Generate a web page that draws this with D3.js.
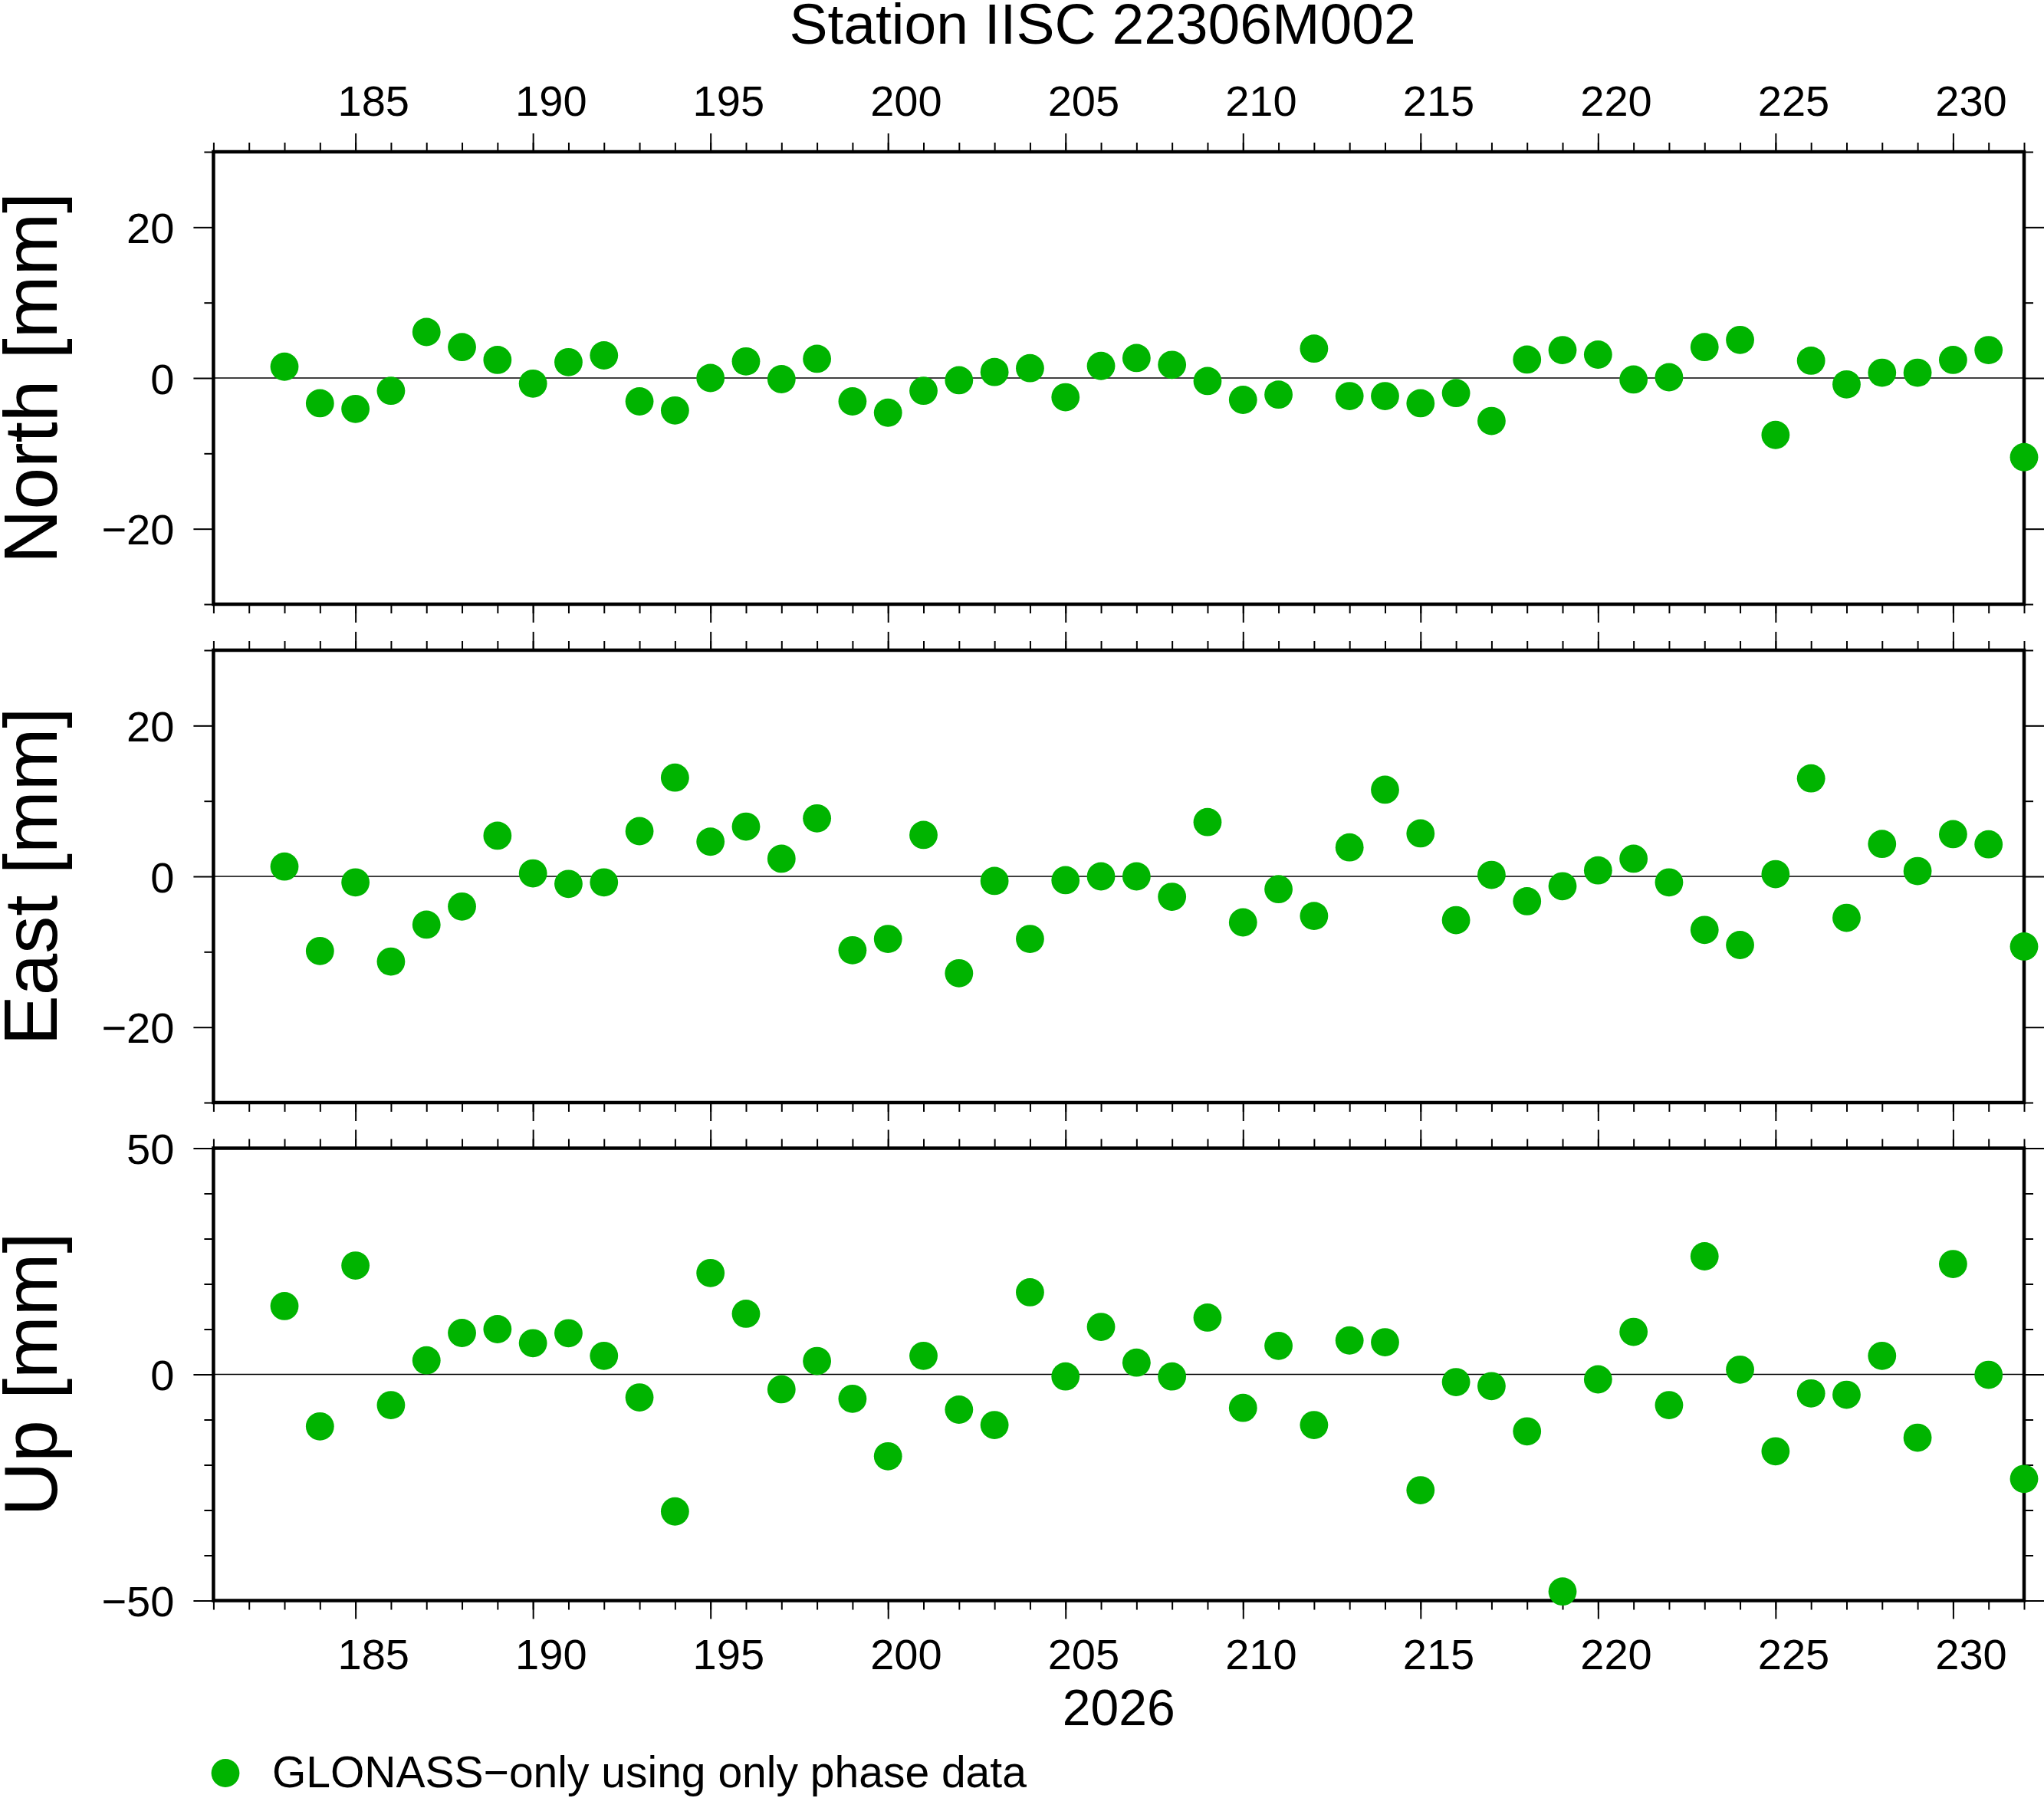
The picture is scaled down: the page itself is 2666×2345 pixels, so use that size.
<!DOCTYPE html>
<html>
<head>
<meta charset="utf-8">
<script src="https://cdn.jsdelivr.net/npm/d3@7"></script>
<style>
  html, body { margin: 0; padding: 0; background: #fff; }
  svg text { font-family: "Liberation Sans", Arial, Helvetica, sans-serif; fill: #000; }
  .tick line { stroke: #000; stroke-width: 2; }
  .domain { display: none; }
</style>
</head>
<body>
<svg id="chart"></svg>
<script>
// day of year 2026
const days = [183, 184, 185, 186, 187, 188, 189, 190, 191, 192, 193, 194,
  195, 196, 197, 198, 199, 200, 201, 202, 203, 204, 205, 206, 207, 208, 209,
  210, 211, 212, 213, 214, 215, 216, 217, 218, 219, 220, 221, 222, 223, 224,
  225, 226, 227, 228, 229, 230, 231, 232];

const north = [1.5, -3.35, -4.1, -1.7, 6.1, 4.1, 2.4, -0.74, 2.1, 3.0, -3.1, -4.3,
  0.0, 2.2, -0.15, 2.55, -3.1, -4.6, -1.7, -0.3, 0.8, 1.3, -2.55, 1.6, 2.65, 1.75,
  -0.4, -2.9, -2.2, 3.9, -2.4, -2.4, -3.35, -2.0, -5.7, 2.45, 3.7, 3.1, -0.2, 0.1,
  4.1, 5.05, -7.55, 2.3, -0.85, 0.7, 0.7, 2.4, 3.7, -10.5];

const east = [1.3, -9.9, -0.8, -11.3, -6.4, -4.0, 5.4, 0.4, -1.0, -0.8, 6.0, 13.1,
  4.6, 6.6, 2.35, 7.7, -9.8, -8.3, 5.5, -12.85, -0.6, -8.3, -0.5, 0.0, 0.0, -2.7,
  7.2, -6.1, -1.7, -5.25, 3.85, 11.5, 5.7, -5.8, 0.2, -3.3, -1.3, 0.8, 2.35, -0.8,
  -7.1, -9.1, 0.3, 13.0, -5.5, 4.3, 0.7, 5.6, 4.25, -9.3];

const up = [15.1, -11.5, 24.05, -6.8, 3.1, 9.15, 10.0, 6.9, 9.1, 4.1, -5.1, -30.3,
  22.4, 13.4, -3.3, 2.95, -5.4, -18.1, 4.1, -7.8, -11.2, 18.15, -0.45, 10.5, 2.6,
  -0.45, 12.55, -7.4, 6.3, -11.2, 7.5, 7.1, -25.6, -1.7, -2.6, -12.6, -48.0, -1.1,
  9.4, -6.8, 26.1, 1.05, -17.0, -4.2, -4.5, 4.1, -14.0, 24.4, -0.1, -23.1];

const xMajorTicks = [185, 190, 195, 200, 205, 210, 215, 220, 225, 230];
const xDomain = [181, 232];

const panels = [
  { label: 'North [mm]', values: north, domain: [-30, 30], major: [-20, 0, 20], minor: [-30, -10, 10, 30] },
  { label: 'East [mm]',  values: east,  domain: [-30, 30], major: [-20, 0, 20], minor: [-30, -10, 10, 30] },
  { label: 'Up [mm]',    values: up,    domain: [-50, 50], major: [-50, 0, 50], minor: [-40, -30, -20, -10, 10, 20, 30, 40] }
];

const title = 'Station IISC 22306M002';
const yearLabel = '2026';
const legendText = 'GLONASS\u2212only using only phase data';

const W = 2666, H = 2345;
const left = 278.4, right = 2640;
const panelTops = [198, 848, 1497.5];
const panelH = 590;
const green = '#00b400';
const dotR = 18.4;

const svg = d3.select('#chart').attr('width', W).attr('height', H);
svg.append('rect').attr('width', W).attr('height', H).attr('fill', '#fff');

const x = d3.scaleLinear().domain(xDomain).range([left, right]);
const minorDays = d3.range(xDomain[0], xDomain[1] + 1);
const fmt = d => (d < 0 ? '\u2212' + Math.abs(d) : String(d));
// day annotations sit in the middle of their day
const halfDay = x(xDomain[0] + 0.5) - x(xDomain[0]);

svg.append('text')
  .attr('x', 1438).attr('y', 57)
  .attr('text-anchor', 'middle')
  .attr('font-size', 75)
  .text(title);

panels.forEach((p, i) => {
  const top = panelTops[i], bottom = top + panelH;
  const y = d3.scaleLinear().domain(p.domain).range([bottom, top]);
  const g = svg.append('g');

  // zero line
  g.append('line')
    .attr('x1', left).attr('x2', right)
    .attr('y1', y(0)).attr('y2', y(0))
    .attr('stroke', '#000').attr('stroke-width', 1.3);

  // x ticks, top and bottom
  const topAxis = g.append('g').attr('transform', `translate(0,${top})`);
  topAxis.append('g').call(d3.axisTop(x).tickValues(minorDays).tickSize(12).tickFormat(''));
  const topMajor = topAxis.append('g')
    .call(d3.axisTop(x).tickValues(xMajorTicks).tickSize(24).tickFormat(i === 0 ? d3.format('d') : ''));

  const botAxis = g.append('g').attr('transform', `translate(0,${bottom})`);
  botAxis.append('g').call(d3.axisBottom(x).tickValues(minorDays).tickSize(12).tickFormat(''));
  const botMajor = botAxis.append('g')
    .call(d3.axisBottom(x).tickValues(xMajorTicks).tickSize(24).tickFormat(i === 2 ? d3.format('d') : ''));

  topMajor.selectAll('text').attr('x', halfDay).attr('y', 150.6 - top).attr('dy', null).attr('font-size', 56);
  botMajor.selectAll('text').attr('x', halfDay).attr('y', 2177 - bottom).attr('dy', null).attr('font-size', 56);

  // y ticks, left and right
  const leftAxis = g.append('g').attr('transform', `translate(${left},0)`);
  leftAxis.append('g').call(d3.axisLeft(y).tickValues(p.minor).tickSize(12).tickFormat(''));
  const leftMajor = leftAxis.append('g')
    .call(d3.axisLeft(y).tickValues(p.major).tickSize(26).tickPadding(25).tickFormat(fmt));
  leftMajor.selectAll('text').attr('font-size', 56).attr('dy', '0.36em');

  const rightAxis = g.append('g').attr('transform', `translate(${right},0)`);
  rightAxis.append('g').call(d3.axisRight(y).tickValues(p.minor).tickSize(12).tickFormat(''));
  rightAxis.append('g').call(d3.axisRight(y).tickValues(p.major).tickSize(26).tickFormat(''));

  svg.selectAll('.tick text').attr('fill', '#000');

  // frame
  g.append('rect')
    .attr('x', left).attr('y', top)
    .attr('width', right - left).attr('height', panelH)
    .attr('fill', 'none').attr('stroke', '#000').attr('stroke-width', 4.5);

  // points
  g.append('g').selectAll('circle')
    .data(p.values)
    .join('circle')
    .attr('cx', (d, k) => x(days[k]))
    .attr('cy', d => y(d))
    .attr('r', dotR)
    .attr('fill', green);

  // y label
  svg.append('text')
    .attr('transform', `translate(73.5,${(top + bottom) / 2}) rotate(-90)`)
    .attr('text-anchor', 'middle')
    .attr('font-size', 98)
    .text(p.label);
});

svg.append('text')
  .attr('x', (left + right) / 2).attr('y', 2250)
  .attr('text-anchor', 'middle')
  .attr('font-size', 66)
  .text(yearLabel);

// legend
svg.append('circle').attr('cx', 294).attr('cy', 2312.5).attr('r', dotR).attr('fill', green);
svg.append('text')
  .attr('x', 355).attr('y', 2330.7)
  .attr('font-size', 57)
  .text(legendText);
</script>
</body>
</html>
